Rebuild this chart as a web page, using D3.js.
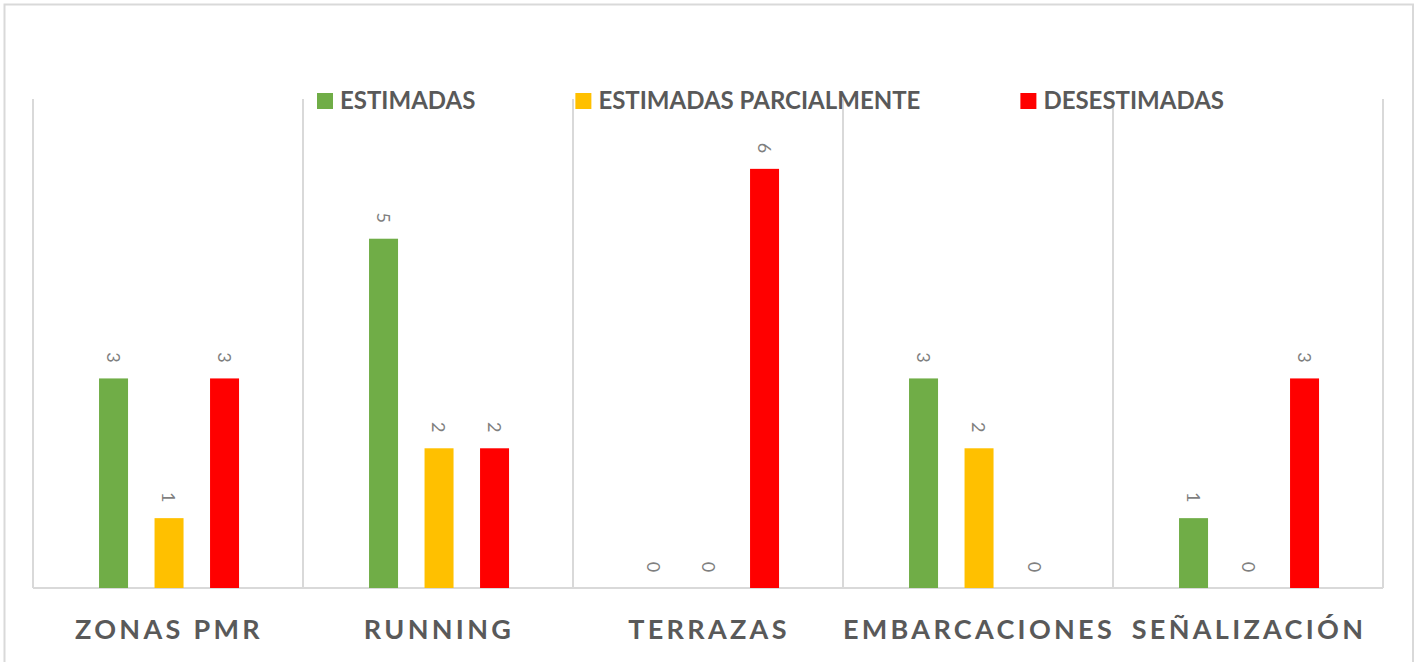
<!DOCTYPE html>
<html>
<head>
<meta charset="utf-8">
<script src="https://cdn.jsdelivr.net/npm/d3@7"></script>
<style>
  html, body { margin: 0; padding: 0; background: #ffffff; }
  svg { display: block; }
</style>
</head>
<body>
<svg id="chart" width="1419" height="662"></svg>
<script>
// Categories and the three series of counts
const categories = ["ZONAS PMR", "RUNNING", "TERRAZAS", "EMBARCACIONES", "SEÑALIZACIÓN"];
const seriesNames = ["ESTIMADAS", "ESTIMADAS PARCIALMENTE", "DESESTIMADAS"];
const estimadas = [3, 5, 0, 3, 1];
const estimadasParcialmente = [1, 2, 0, 2, 0];
const desestimadas = [3, 2, 6, 0, 3];
const seriesColors = ["#70ad47", "#ffc000", "#ff0000"];
const yMax = 7;

const seriesValues = [estimadas, estimadasParcialmente, desestimadas];
const rows = categories.map((c, i) => ({
  category: c,
  values: seriesNames.map((s, j) => ({ series: s, value: seriesValues[j][i], color: seriesColors[j] }))
}));

const svg = d3.select("#chart");
const plot = { left: 33, right: 1383, top: 99, bottom: 588 };
const gridColor = "#d9d9d9";
const textColor = "#595959";

// Outer chart border
svg.append("rect")
  .attr("x", 4.5).attr("y", 4.5)
  .attr("width", 1408.5).attr("height", 700)
  .attr("fill", "#ffffff")
  .attr("stroke", gridColor).attr("stroke-width", 2);

const x = d3.scaleBand().domain(categories).range([plot.left, plot.right]).padding(0);
const xInner = d3.scaleBand().domain(seriesNames).range([0, x.bandwidth()])
  .paddingInner(0.4775).paddingOuter(1.171).align(0.508);
const y = d3.scaleLinear().domain([0, yMax]).range([plot.bottom, plot.top]);

// Vertical separators between categories
const bounds = categories.map(c => x(c)).concat([x(categories[categories.length - 1]) + x.bandwidth()]);
svg.append("g").selectAll("line").data(bounds).join("line")
  .attr("x1", d => d).attr("x2", d => d)
  .attr("y1", y(yMax)).attr("y2", y(0))
  .attr("stroke", gridColor).attr("stroke-width", 2);

// Baseline
svg.append("line")
  .attr("x1", plot.left).attr("x2", plot.right)
  .attr("y1", y(0)).attr("y2", y(0))
  .attr("stroke", gridColor).attr("stroke-width", 2);

// Bars
const groups = svg.append("g").selectAll("g").data(rows).join("g")
  .attr("transform", d => `translate(${x(d.category)},0)`);

groups.selectAll("rect").data(d => d.values).join("rect")
  .attr("x", d => xInner(d.series))
  .attr("width", xInner.bandwidth())
  .attr("y", d => y(d.value))
  .attr("height", d => y(0) - y(d.value))
  .attr("fill", d => d.color);

// Rotated value labels above each bar
groups.selectAll("text").data(d => d.values).join("text")
  .attr("transform", d => `translate(${xInner(d.series) + xInner.bandwidth() / 2},${y(d.value) - 21}) rotate(90)`)
  .attr("text-anchor", "middle")
  .attr("dominant-baseline", "central")
  .attr("font-family", "Lato, 'Open Sans', sans-serif")
  .attr("font-size", 18)
  .attr("fill", "#7f7f7f")
  .text(d => d.value);

// Category labels
svg.append("g").selectAll("text").data(categories).join("text")
  .attr("x", d => x(d) + x.bandwidth() / 2 + 1)
  .attr("y", 639)
  .attr("text-anchor", "middle")
  .attr("font-family", "Lato, 'Open Sans', sans-serif")
  .attr("font-weight", "bold")
  .attr("font-size", 27)
  .attr("letter-spacing", 3.3)
  .attr("fill", textColor)
  .text(d => d);

// Legend
const legend = svg.append("g");
let lx = 317;
seriesNames.forEach((name, i) => {
  legend.append("rect")
    .attr("x", lx).attr("y", 93)
    .attr("width", 16).attr("height", 16)
    .attr("fill", seriesColors[i]);
  const t = legend.append("text")
    .attr("x", lx + 23).attr("y", 109)
    .attr("font-family", "Lato, 'Open Sans', sans-serif")
    .attr("font-weight", "bold")
    .attr("font-size", 24)
    .attr("fill", textColor)
    .text(name);
  lx = lx + 23 + t.node().getComputedTextLength() + 100;
});
</script>
</body>
</html>
